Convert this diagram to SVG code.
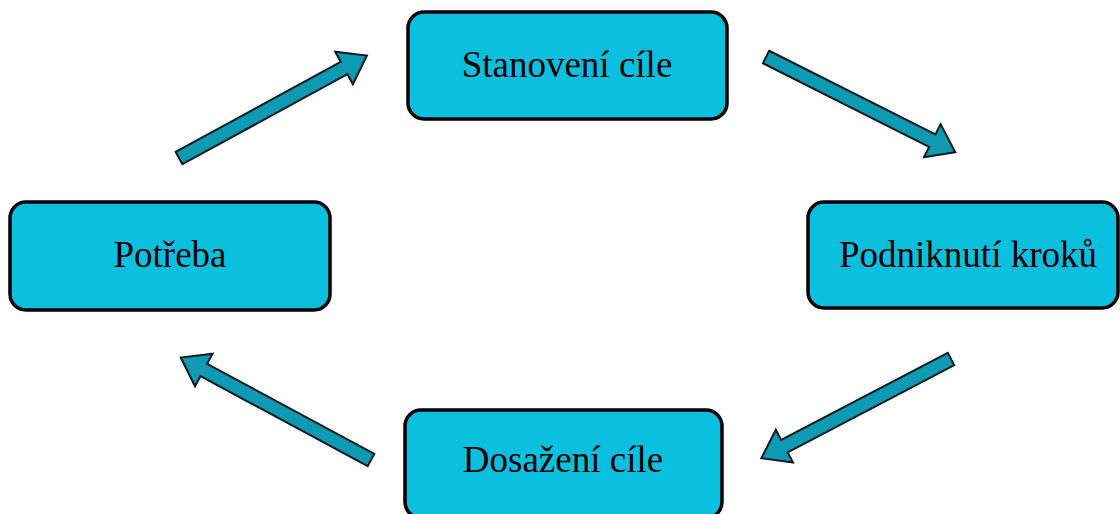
<svg xmlns="http://www.w3.org/2000/svg" width="1120" height="514" viewBox="0 0 1120 514">
  <defs>
    <style>
      .box { fill: #0bbfdf; stroke: #000; stroke-width: 3.5; }
      .label { font-family: "Liberation Serif", "Times New Roman", serif; font-size: 37px; fill: #000; text-anchor: middle; }
      .arrow { fill: #0e9ab3; stroke: #0a1a1e; stroke-width: 2; stroke-linejoin: miter; }
    </style>
    <!-- block arrow pointing along +x, tail at the origin -->
    <path id="blockArrow" d="M0,-7 H188 V-18.5 L214,0 L188,18.5 V7 H0 Z"/>
  </defs>
  <rect width="1120" height="514" fill="#fff"/>

  <g id="connectors">
    <use href="#blockArrow" class="arrow" transform="translate(179,158) rotate(-28.6)"/>
    <use href="#blockArrow" class="arrow" transform="translate(766,57) rotate(26.7) scale(0.99,1)"/>
    <use href="#blockArrow" class="arrow" transform="translate(951,359) rotate(152.4)"/>
    <use href="#blockArrow" class="arrow" transform="translate(371,460) rotate(-151.7) scale(1.01,1)"/>
  </g>

  <g id="node-stanoveni">
    <rect class="box" x="408" y="12" width="319" height="107" rx="16"/>
    <text class="label" x="567" y="77">Stanovení cíle</text>
  </g>

  <g id="node-potreba">
    <rect class="box" x="10" y="202" width="320" height="108" rx="16"/>
    <text class="label" x="170" y="267">Potřeba</text>
  </g>

  <g id="node-podniknuti">
    <rect class="box" x="808" y="202" width="310" height="106" rx="16"/>
    <text class="label" x="968" y="267">Podniknutí kroků</text>
  </g>

  <g id="node-dosazeni">
    <rect class="box" x="405" y="410" width="317" height="108" rx="16"/>
    <text class="label" x="563" y="472">Dosažení cíle</text>
  </g>
</svg>
